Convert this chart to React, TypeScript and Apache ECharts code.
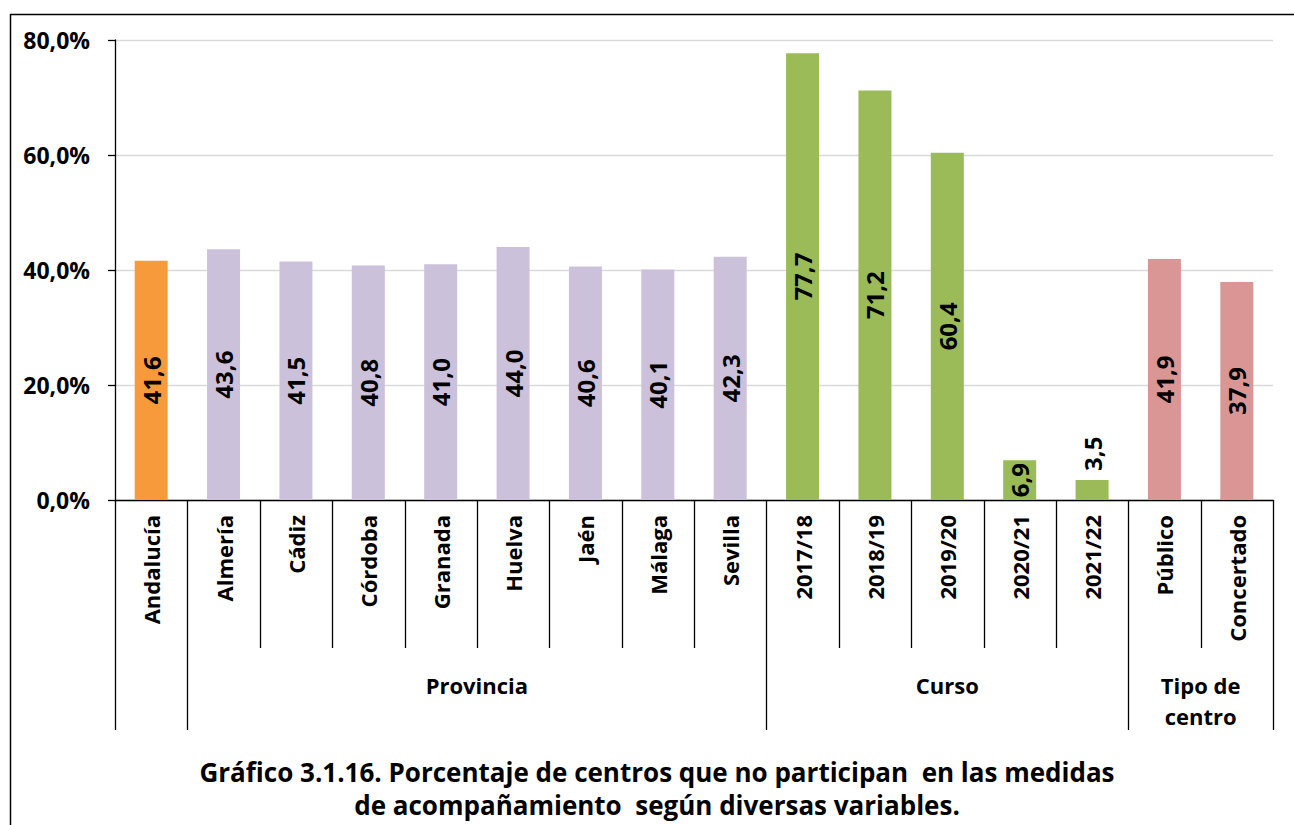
import React, { useEffect, useRef } from "react";
import * as echarts from "echarts";

const categories = [
  "Andalucía", "Almería", "Cádiz", "Córdoba", "Granada", "Huelva", "Jaén", "Málaga", "Sevilla",
  "2017/18", "2018/19", "2019/20", "2020/21", "2021/22", "Público", "Concertado",
];
const values = [41.6, 43.6, 41.5, 40.8, 41.0, 44.0, 40.6, 40.1, 42.3, 77.7, 71.2, 60.4, 6.9, 3.5, 41.9, 37.9];
const groupNames = ["", "Provincia", "Curso", "Tipo de\ncentro"];
const groupSizes = [1, 8, 5, 2];
const groupColors = ["#F79A3B", "#CCC1DA", "#9BBB59", "#D99694"];
const yTicks = { min: 0, max: 80, interval: 20 };
const titleLines = [
  "Gráfico 3.1.16. Porcentaje de centros que no participan  en las medidas",
  "de acompañamiento  según diversas variables.",
];

const FONT = "'Open Sans', Lato, sans-serif";
const fmt = (v: number, d = 1) => v.toFixed(d).replace(".", ",");

export default function App() {
  const ref = useRef<HTMLDivElement>(null);
  useEffect(() => {
    if (!ref.current) return;
    const chart = echarts.init(ref.current, undefined, { renderer: "svg" });

    const colorOf: string[] = [];
    groupSizes.forEach((n, g) => { for (let k = 0; k < n; k++) colorOf.push(groupColors[g]); });

    const grid = { left: 115, right: 21, top: 40, bottom: 325 };

    chart.setOption({
      animation: false,
      backgroundColor: "#fff",
      grid,
      xAxis: {
        type: "category",
        data: categories,
        axisLine: { lineStyle: { color: "#000", width: 1.3 } },
        axisTick: { show: false },
        axisLabel: {
          rotate: 90,
          margin: 15,
          interval: 0,
          fontFamily: FONT,
          fontWeight: "bold",
          fontSize: 22,
          color: "#000",
        },
      },
      yAxis: {
        type: "value",
        ...yTicks,
        axisLine: { show: true, lineStyle: { color: "#000", width: 1.3 } },
        axisTick: { show: true, length: 7, lineStyle: { color: "#000", width: 1.3 } },
        splitLine: { lineStyle: { color: "#D9D9D9", width: 1.3 } },
        axisLabel: {
          margin: 25,
          fontFamily: FONT,
          fontWeight: "bold",
          fontSize: 23,
          color: "#000",
          formatter: (v: number) => fmt(v) + "%",
        },
      },
      series: [
        {
          type: "bar",
          barWidth: 33,
          data: values.map((v, i) => {
            const small = v < 5;
            return {
              value: v,
              itemStyle: { color: colorOf[i] },
              label: small
                ? { position: "top", distance: 9, rotate: 90, align: "left", verticalAlign: "middle" }
                : { position: "inside", rotate: 90, align: "center", verticalAlign: "middle" },
            };
          }),
          label: {
            show: true,
            fontFamily: FONT,
            fontWeight: "bold",
            fontSize: 24,
            color: "#000",
            formatter: (p: any) => fmt(p.value),
          },
        },
      ],
    });

    // decorations computed from the axis scale
    const px = (i: number) => chart.convertToPixel({ xAxisIndex: 0 }, i) as number;
    const y0 = chart.convertToPixel({ yAxisIndex: 0 }, 0) as number;
    const step = px(1) - px(0);
    const edge = (k: number) => px(0) - step / 2 + k * step;
    const catBottom = y0 + 148;
    const groupBottom = y0 + 230;
    const lineStyle = { stroke: "#000", lineWidth: 1.3 };
    const elements: any[] = [];
    const groupEdges = new Set<number>();
    let acc = 0;
    groupEdges.add(0);
    groupSizes.forEach((n) => { acc += n; groupEdges.add(acc); });
    for (let k = 0; k <= categories.length; k++) {
      const x = Math.round(edge(k)) + 0.5;
      elements.push({
        type: "line",
        shape: { x1: x, y1: y0, x2: x, y2: groupEdges.has(k) ? groupBottom : catBottom },
        style: lineStyle,
      });
    }
    acc = 0;
    groupSizes.forEach((n, g) => {
      const cx = (edge(acc) + edge(acc + n)) / 2;
      acc += n;
      if (!groupNames[g]) return;
      elements.push({
        type: "text",
        x: cx,
        y: y0 + 169,
        style: {
          text: groupNames[g],
          align: "center",
          verticalAlign: "top",
          fontFamily: FONT,
          fontWeight: "bold",
          fontSize: 22,
          lineHeight: 31,
          fill: "#000",
        },
      });
    });
    // frame
    elements.push({ type: "line", shape: { x1: 10, y1: 14.5, x2: 1294, y2: 14.5 }, style: { stroke: "#000", lineWidth: 1.5 } });
    elements.push({ type: "line", shape: { x1: 10.5, y1: 14, x2: 10.5, y2: 825 }, style: { stroke: "#000", lineWidth: 1.5 } });
    // title
    elements.push({
      type: "text",
      x: 657,
      y: 755,
      style: {
        text: titleLines.join("\n"),
        align: "center",
        verticalAlign: "top",
        fontFamily: FONT,
        fontWeight: "bold",
        fontSize: 26,
        lineHeight: 33,
        fill: "#000",
      },
    });
    chart.setOption({ graphic: { elements } });

    return () => chart.dispose();
  }, []);
  return <div ref={ref} style={{ position: "fixed", left: 0, top: 0, width: 1294, height: 825 }} />;
}
